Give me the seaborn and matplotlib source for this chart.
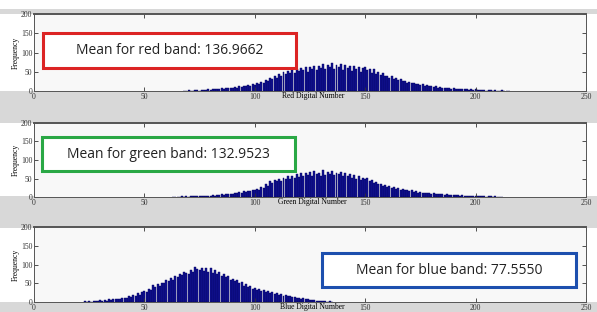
import numpy as np
import pandas as pd
import matplotlib
matplotlib.use("Agg")
import matplotlib.pyplot as plt
from matplotlib.patches import Rectangle
import seaborn as sns

# Histogram counts per digital number
red_start = 68
red_counts = [
    1, 0, 2, 1, 0, 2, 3, 1, 2, 3, 2, 4,
    3, 5, 4, 6, 5, 7, 6, 8, 7, 9,
    8, 10, 9, 12, 11, 13, 12, 15, 14, 17,
    16, 20, 18, 24, 22, 28, 25, 33, 30, 38,
    35, 45, 40, 50, 44, 52, 48, 55, 47, 58,
    52, 60, 55, 62, 50, 63, 58, 66, 54, 65,
    60, 70, 56, 68, 62, 72, 58, 67, 63, 70,
    55, 68, 60, 66, 52, 64, 58, 62, 50, 60,
    62, 55, 58, 48, 56, 45, 50, 42, 46, 38,
    40, 35, 38, 30, 33, 28, 31, 25, 27, 22,
    24, 20, 22, 18, 19, 16, 17, 14, 15, 12,
    13, 11, 12, 9, 10, 8, 9, 7, 8, 6,
    7, 5, 6, 4, 5, 4, 5, 3, 4, 3,
    4, 2, 3, 2, 3, 1, 2, 2, 1, 2,
    1, 0, 2, 1, 0, 1,
]

green_start = 63
green_counts = [
    1, 0, 1, 0, 2, 1, 2,
    1, 2, 2, 3, 2, 3, 3, 4, 3, 4,
    4, 5, 4, 6, 5, 7, 6, 8, 7, 9,
    8, 11, 10, 13, 12, 15, 14, 17, 16, 19,
    18, 22, 20, 28, 25, 34, 30, 42, 38, 46,
    44, 50, 42, 52, 48, 56, 50, 58, 52, 62,
    55, 64, 58, 66, 60, 68, 57, 70, 62, 66,
    58, 72, 60, 67, 63, 70, 59, 66, 61, 68,
    56, 64, 58, 62, 52, 60, 50, 56, 46, 52,
    48, 52, 42, 45, 38, 40, 34, 36, 30, 32,
    28, 30, 25, 26, 22, 23, 20, 21, 18, 19,
    16, 18, 14, 15, 12, 13, 11, 12, 10, 11,
    9, 10, 8, 9, 7, 8, 6, 7, 6, 6,
    5, 6, 5, 4, 5, 4, 3, 4, 3, 3,
    3, 2, 4, 2, 3, 1, 2, 2, 1, 2,
    1, 0, 1,
]

blue_start = 23
blue_counts = [
    2, 0, 3, 1, 4, 2, 3,
    5, 3, 6, 4, 7, 5, 8, 7, 9, 8,
    10, 12, 11, 15, 13, 18, 16, 25, 20, 28,
    30, 27, 35, 32, 45, 40, 48, 44, 52, 50,
    58, 55, 63, 60, 70, 66, 75, 72, 80, 78,
    76, 85, 80, 94, 88, 86, 92, 82, 90, 80,
    92, 78, 85, 75, 80, 70, 76, 66, 70, 60,
    62, 55, 58, 50, 53, 44, 48, 40, 42, 36,
    38, 32, 35, 30, 33, 28, 30, 25, 27, 22,
    24, 20, 21, 17, 18, 15, 16, 13, 14, 11,
    12, 9, 10, 7, 8, 6, 6, 5, 4, 4,
    3, 2, 3, 1, 2, 1,
]

band_names = ["Red", "Green", "Blue"]
band_means = ["136.9662", "132.9523", "77.5550"]
box_colors = ["#dc2424", "#2aa845", "#1d4fae"]

W, H = 597, 312
fig = plt.figure(figsize=(W / 100, H / 100), dpi=100)
fig.patch.set_facecolor("white")

def px_rect(x0, y0, x1, y1, **kw):
    # rectangle given in pixel coords (origin top-left)
    return Rectangle((x0 / W, 1 - y1 / H), (x1 - x0) / W, (y1 - y0) / H,
                     transform=fig.transFigure, **kw)

# grey figure strips behind the x tick labels
for y0, y1 in [(9, 14), (91, 123), (196, 228), (302, 312)]:
    fig.add_artist(px_rect(0, y0, W, y1, facecolor="#d8d8d8", edgecolor="none", zorder=0))

panels = [(14, 91), (123, 197), (227, 302)]
data = [(red_start, red_counts), (green_start, green_counts), (blue_start, blue_counts)]

for (top, bot), (start, counts), name in zip(panels, data, band_names):
    ax = fig.add_axes([34 / W, 1 - bot / H, 552 / W, (bot - top) / H])
    ax.set_facecolor("#f8f8f8")
    df = pd.DataFrame({"dn": np.arange(start, start + len(counts)), "count": counts})
    sns.histplot(data=df, x="dn", weights="count", discrete=True, shrink=0.9,
                 color="#121294", edgecolor="#00005a", linewidth=0.3, alpha=1, ax=ax)
    ax.set_xlim(0, 250)
    ax.set_ylim(0, 200)
    ax.set_xticks([0, 50, 100, 150, 200, 250])
    ax.set_yticks([0, 50, 100, 150, 200])
    ax.tick_params(direction="in", top=True, right=True, length=3, width=0.6,
                   labelsize=5.5, pad=1.2, colors="#333333")
    for lab in ax.get_xticklabels() + ax.get_yticklabels():
        lab.set_family("Liberation Serif")
    for sp in ax.spines.values():
        sp.set_color("#555555")
        sp.set_linewidth(0.7)
    ax.spines["top"].set_linewidth(1.4)
    ax.set_xlabel(f"{name} Digital Number", family="Liberation Serif", fontsize=5.5)
    ax.xaxis.set_label_coords(0.505, -0.01)
    ax.xaxis.label.set_va("top")
    ax.set_ylabel("Frequency", family="Liberation Serif", fontsize=5.5, labelpad=1)

# mean annotation boxes (pixel coords)
boxes = [(43, 33, 296, 68), (42, 137, 295, 171), (322, 253, 576, 287)]
for (x0, y0, x1, y1), name, mean, col in zip(boxes, band_names, band_means, box_colors):
    fig.add_artist(px_rect(x0, y0, x1, y1, facecolor="white", edgecolor=col,
                           linewidth=2.2, zorder=5))
    fig.text((x0 + x1) / 2 / W, 1 - (y0 + y1) / 2 / H,
             f"Mean for {name.lower()} band: {mean}", ha="center", va="center",
             fontsize=10, family="Open Sans", color="#222222", zorder=6)

fig.savefig("out.png", dpi=100)
